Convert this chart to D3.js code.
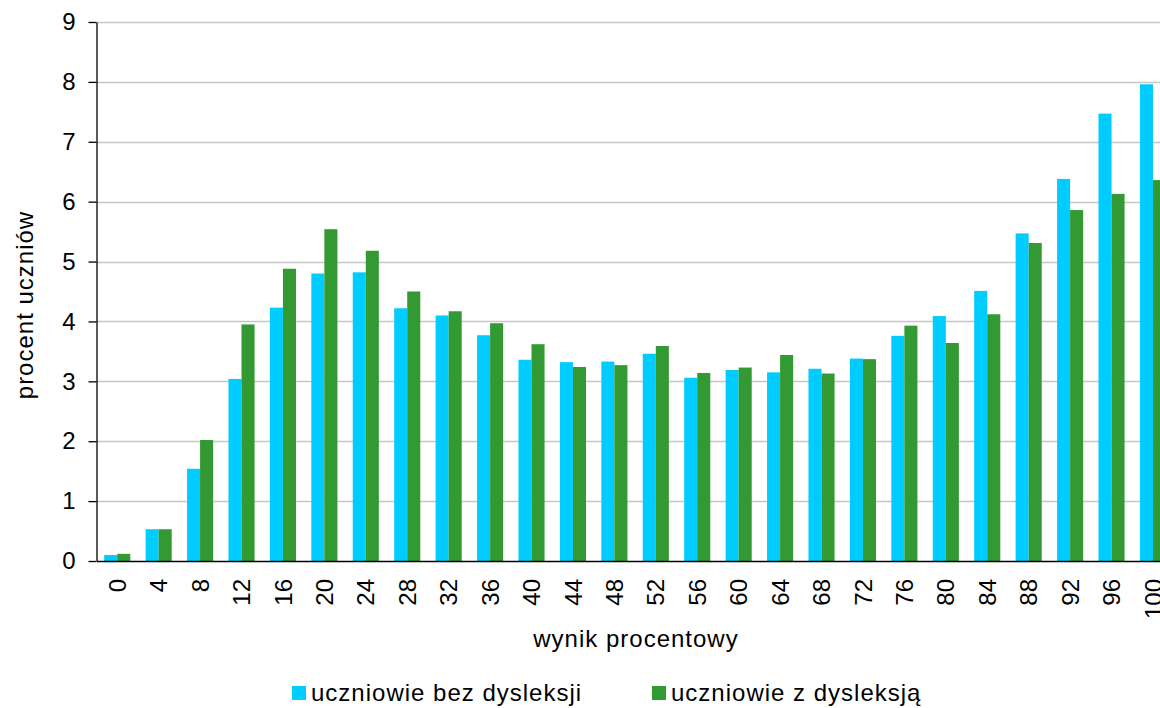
<!DOCTYPE html>
<head>
  <meta charset="utf-8">
  <script src="https://cdn.jsdelivr.net/npm/d3@7"></script>
  <style>
    body { margin:0; background:#fff; }
    svg { display:block; font-family:"Liberation Sans", Arial, sans-serif; }
  </style>
</head>
<body>
<script>
// wynik procentowy (x categories)
var scores = ["0","4","8","12","16","20","24","28","32","36","40","44","48","52",
              "56","60","64","68","72","76","80","84","88","92","96","100"];
// uczniowie bez dysleksji
var bezDysleksji = [0.10,0.53,1.54,3.04,4.23,4.80,4.82,4.22,4.10,3.77,3.36,3.32,3.33,3.46,
                    3.06,3.19,3.15,3.21,3.38,3.76,4.09,4.51,5.47,6.38,7.47,7.96];
// uczniowie z dysleksją
var zDysleksja   = [0.12,0.53,2.02,3.95,4.88,5.54,5.18,4.50,4.17,3.97,3.62,3.24,3.27,3.59,
                    3.14,3.23,3.44,3.13,3.37,3.93,3.64,4.12,5.31,5.86,6.13,6.36];
var yTicks = [0,1,2,3,4,5,6,7,8,9];
var seriesNames = ["uczniowie bez dysleksji","uczniowie z dysleksją"];
var colors = ["#00ccff","#339933"];

var width = 1160, height = 708;
var plotLeft = 96.5, plotTop = 22, plotBottom = 561;
var step = 41.43;

var svg = d3.select("body").append("svg")
    .attr("width", width)
    .attr("height", height);

var x = d3.scaleBand()
    .domain(scores)
    .range([plotLeft, plotLeft + step * scores.length])
    .paddingInner(0.37)
    .paddingOuter(0.185);

var xs = d3.scaleBand()
    .domain([0,1])
    .range([0, x.bandwidth()]);

var y = d3.scaleLinear()
    .domain([0, 9])
    .range([plotBottom, plotTop]);

// gridlines
svg.append("g")
  .selectAll("line")
  .data(yTicks.slice(1))
  .enter().append("line")
    .attr("x1", plotLeft)
    .attr("x2", x.range()[1])
    .attr("y1", function(d) { return Math.round(y(d)) + 0.5; })
    .attr("y2", function(d) { return Math.round(y(d)) + 0.5; })
    .attr("stroke", "#c6c6c6")
    .attr("stroke-width", 1.3);

// bars
var rows = scores.map(function(s, i) { return {s: s, v: [bezDysleksji[i], zDysleksja[i]]}; });
var groups = svg.append("g")
  .selectAll("g")
  .data(rows)
  .enter().append("g")
    .attr("transform", function(d) { return "translate(" + x(d.s) + ",0)"; });

groups.selectAll("rect")
  .data(function(d) { return d.v; })
  .enter().append("rect")
    .attr("x", function(d, k) { return xs(k); })
    .attr("width", xs.bandwidth())
    .attr("y", function(d) { return y(d); })
    .attr("height", function(d) { return y(0) - y(d); })
    .attr("fill", function(d, k) { return colors[k]; });

// y axis
var yAxis = svg.append("g")
    .attr("transform", "translate(" + plotLeft + ",0)")
    .call(d3.axisLeft(y).tickValues(yTicks).tickSize(8).tickPadding(13).tickSizeOuter(0));
yAxis.select(".domain").attr("stroke", "#000").attr("stroke-width", 1.3);
yAxis.selectAll(".tick line").attr("stroke", "#000").attr("stroke-width", 1.3);
yAxis.selectAll("text")
    .attr("font-size", 24)
    .attr("fill", "#000")
    .attr("font-family", "Liberation Sans, Arial, sans-serif");

// x axis
var xAxis = svg.append("g")
    .attr("transform", "translate(0," + plotBottom + ")")
    .call(d3.axisBottom(x).tickSize(0).tickSizeOuter(0));
xAxis.select(".domain").attr("stroke", "#000").attr("stroke-width", 1.3);
xAxis.selectAll("text")
    .attr("font-size", 24)
    .attr("fill", "#000")
    .attr("font-family", "Liberation Sans, Arial, sans-serif")
    .attr("transform", "rotate(-90)")
    .attr("text-anchor", "end")
    .attr("x", -18)
    .attr("y", 0)
    .attr("dy", "0.36em");

// axis titles
svg.append("text")
    .attr("x", 636)
    .attr("y", 647)
    .attr("text-anchor", "middle")
    .attr("font-size", 24)
    .attr("letter-spacing", 1)
    .text("wynik procentowy");

svg.append("text")
    .attr("transform", "translate(33,305) rotate(-90)")
    .attr("text-anchor", "middle")
    .attr("font-size", 24)
    .attr("letter-spacing", 1)
    .text("procent uczniów");

// legend
var legendX = [292, 652];
var legend = svg.append("g")
  .selectAll("g")
  .data(seriesNames)
  .enter().append("g")
    .attr("transform", function(d, i) { return "translate(" + legendX[i] + ",686)"; });
legend.append("rect")
    .attr("width", 14)
    .attr("height", 14)
    .attr("fill", function(d, i) { return colors[i]; });
legend.append("text")
    .attr("x", 19)
    .attr("y", 15)
    .attr("font-size", 24)
    .attr("letter-spacing", 1)
    .text(function(d) { return d; });
</script>
</body>
